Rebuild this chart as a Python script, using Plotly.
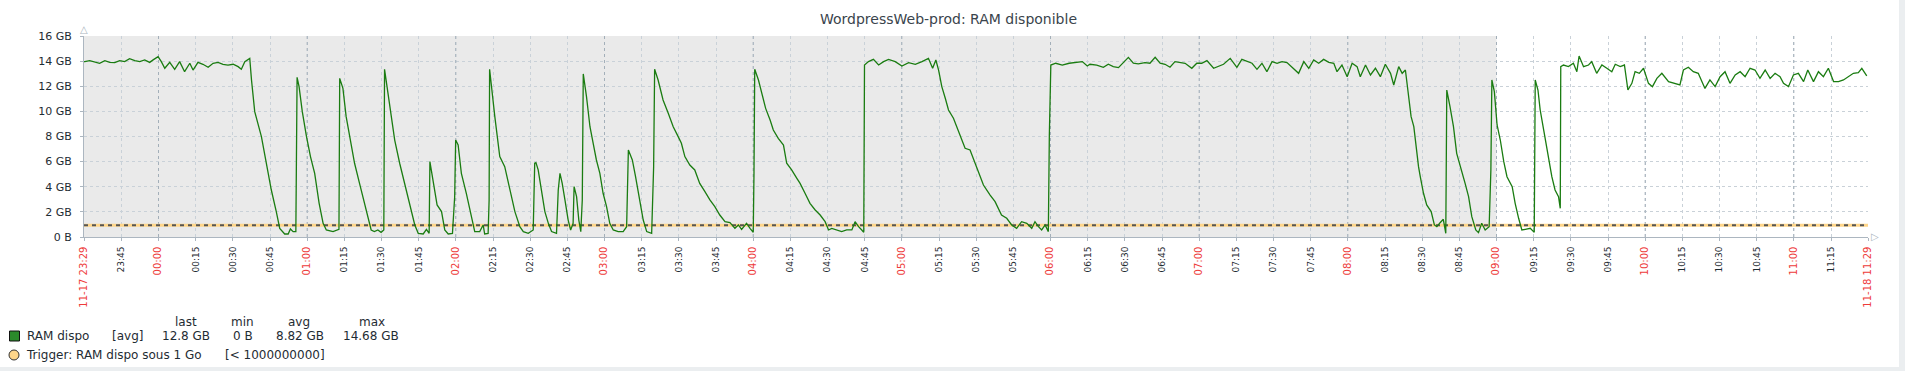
import plotly.graph_objects as go
import pandas as pd

# ---------------- data ----------------
START = "2023-11-17 23:29:56"
END = "2023-11-18 11:29:56"
WORK_START = "2023-11-18 09:00:00"

# minutes since START
T_MIN = [0, 0.3, 2.3, 4.3, 6.3, 8.4, 10.4, 12.4, 14.4, 16.4, 18.4, 20.5, 22.5, 24.5, 26.5, 27.9, 29.9, 31.2,
         32.6, 34.6, 36.6, 38.6, 40.6, 42.7, 44.0, 46.0, 48.0, 50.1, 52.1, 54.1, 56.1, 58.1, 60.2, 62.2, 63.5,
         64.9, 66.2, 66.9,
         67.6, 68.9, 71.6, 73.6, 75.6, 77.6, 79.0, 81.0, 82.4, 83.3, 84.4, 85.5, 85.7, 86.0,
         86.8, 88.1, 89.8, 91.4, 93.1, 94.9, 96.5, 97.8, 100.5, 102.5, 102.9, 103.2,
         104.5, 105.8, 107.4, 109.2, 111.2, 113.2, 115.0, 115.9, 117.2, 118.6, 119.9, 121.0, 121.3,
         123.4, 125.4, 127.4, 129.4, 131.5, 133.5, 134.9, 136.9, 138.2, 139.3, 139.6,
         140.9, 142.5, 144.3, 145.6, 147.0, 148.7, 149.6, 150.0,
         151.0, 152.3, 154.3, 156.4, 157.7, 159.7, 161.1, 161.7, 163.1, 163.5, 163.7,
         165.8, 167.8, 169.8, 171.8, 173.9, 175.9, 177.3, 179.3, 181.3, 181.9, 182.4,
         183.3, 184.7, 186.0, 187.4, 188.7, 190.7, 191.4, 192.1,
         193.0, 194.1, 195.4, 196.4, 197.4, 197.8, 198.8, 199.7, 200.5, 201.1, 201.5,
         202.8, 204.2, 205.5, 206.8, 208.2, 209.5, 210.9, 212.2, 213.6, 215.6, 217.6, 219.0, 219.7,
         221.3, 222.6, 224.4, 225.7, 227.1, 229.1, 229.9, 230.3,
         231.7, 233.7, 235.8, 237.8, 239.8, 241.1, 242.5, 244.5, 246.5, 248.5, 250.6, 252.6, 254.6, 256.6,
         258.7, 260.7, 262.7, 264.1, 265.4, 267.4, 268.8, 270.1, 270.4, 270.7,
         272.2, 273.8, 275.1, 276.9, 278.2, 280.2, 282.3, 283.6, 285.6, 287.7, 289.0, 291.0, 293.0, 295.1,
         297.1, 299.1, 300.5, 301.8, 303.8, 305.8, 307.8, 309.9, 311.2, 312.6, 313.9, 314.7, 315.0,
         316.6, 318.6, 320.7, 322.7, 324.7, 327.4, 330.1, 332.8, 335.5, 338.2, 340.8, 342.5, 343.8, 344.9,
         346.2, 347.6, 348.9, 350.9, 352.3, 353.6, 355.6, 357.6, 359.7,
         360.8, 363.0, 365.7, 367.7, 370.3, 372.4, 374.4, 376.4, 378.4, 380.5, 382.5, 383.8, 385.2, 386.5,
         387.9, 389.2, 389.6, 390.2,
         392.2, 394.8, 397.6, 400.3, 402.9, 404.9, 406.0, 408.7, 411.4, 413.4, 415.4, 417.5, 419.5, 421.5,
         423.5, 425.5, 428.2, 430.2, 432.3, 434.3, 436.3, 438.3, 440.3, 442.4, 444.4, 447.1, 449.1, 451.1,
         453.2, 455.9, 457.9, 459.9, 462.6, 465.3, 467.3, 469.3, 471.4, 473.4, 475.4, 477.4, 479.5, 481.5,
         483.5, 485.5, 488.2, 490.2, 492.3, 494.3, 496.3, 498.3, 500.3, 502.4, 504.4, 505.7, 507.7, 509.8,
         511.8, 513.8, 515.1, 517.2, 519.2, 521.2, 523.2, 525.2, 527.3, 528.6, 530.6, 532.0, 533.3, 534.0,
         534.6, 535.6, 536.7, 537.7, 538.6, 539.3,
         540.6, 541.9, 543.7, 545.0, 546.0, 547.3, 548.6, 549.6, 550.0,
         551.3, 552.7, 554.0, 555.4, 557.4, 558.8, 560.1, 561.7, 562.8, 564.1, 565.5, 567.1, 567.8, 568.2,
         569.2, 570.3, 571.6, 573.0, 574.3, 576.4, 577.6, 579.0, 580.3, 581.7, 583.7, 585.3, 585.7,
         586.8, 587.7, 589.1, 590.4, 591.3, 592.4, 593.7, 595.1, 595.8, 596.0,
         597.1, 599.1, 601.1, 602.5, 603.4, 605.2, 607.2, 608.5, 610.5, 612.6, 614.6, 616.6, 618.0, 620.0,
         621.7, 623.1, 624.7, 626.0, 627.7, 629.4, 631.4, 633.0, 634.8, 636.8, 639.5, 642.1, 644.1, 645.5,
         647.5, 649.5, 651.5, 654.2, 656.2, 658.3, 660.3, 662.3, 664.3, 666.4, 668.4, 670.4, 672.4, 674.4,
         676.4, 678.5, 680.5, 682.5, 684.5, 685.9, 687.9, 689.9, 691.9, 694.0, 695.7, 698.0, 700.0, 702.0,
         704.0, 706.1, 708.1, 710.1, 712.1, 714.1, 716.1, 717.5, 719.5]

RAM_GB = [13.96, 13.96, 14.04, 13.96, 13.83, 14.04, 13.90, 13.88, 14.04, 13.96, 14.20, 14.04, 13.96, 14.09, 13.90, 14.10, 14.35, 13.96,
          13.43, 13.90, 13.35, 13.96, 13.16, 13.83, 13.29, 13.90, 13.75, 13.51, 13.83, 13.90, 13.75, 13.69, 13.75, 13.56, 13.35,
          13.96, 14.14, 14.22,
          12.50, 9.98, 7.99, 5.87, 3.74, 2.02, 0.69, 0.24, 0.24, 0.64, 0.43, 0.43, 8.12, 12.71,
          11.97, 9.98, 7.99, 6.40, 5.07, 2.68, 1.09, 0.56, 0.43, 0.61, 0.61, 12.63,
          11.83, 9.58, 7.72, 5.87, 4.27, 2.68, 1.09, 0.56, 0.43, 0.56, 0.37, 0.56, 13.35,
          10.38, 7.72, 5.87, 4.27, 2.68, 0.96, 0.29, 0.24, 0.61, 0.29, 6.00,
          4.27, 2.55, 2.02, 0.56, 0.24, 0.29, 3.21, 7.72,
          7.32, 5.07, 3.48, 1.62, 0.43, 0.43, 0.96, 0.24, 0.29, 2.95, 13.35,
          9.58, 6.40, 5.60, 3.74, 2.02, 0.82, 0.43, 0.29, 0.56, 5.87, 5.92,
          5.34, 3.74, 2.02, 1.09, 0.43, 0.29, 3.74, 5.07,
          4.27, 2.95, 1.35, 0.56, 1.09, 4.01, 3.21, 1.35, 0.43, 2.95, 12.98,
          11.17, 8.78, 7.46, 6.13, 5.07, 3.48, 2.42, 1.09, 0.56, 0.43, 0.43, 0.82, 6.93,
          6.13, 4.80, 2.95, 1.35, 0.43, 0.29, 5.60, 13.35,
          12.50, 10.91, 9.85, 8.78, 7.99, 7.46, 6.40, 5.73, 5.34, 4.27, 3.61, 2.95, 2.42, 1.75,
          1.22, 1.14, 0.69, 0.96, 0.61, 1.09, 0.69, 0.37, 5.07, 13.35,
          12.50, 11.17, 10.24, 9.31, 8.52, 7.85, 7.32, 5.87, 5.34, 4.67, 4.27, 3.48, 2.68, 2.15,
          1.75, 1.22, 0.56, 0.69, 0.56, 0.43, 0.56, 0.56, 1.22, 0.82, 0.56, 0.37, 13.69,
          13.96, 14.14, 13.69, 13.96, 14.14, 13.96, 13.61, 13.88, 13.75, 13.96, 14.22, 13.43, 14.09, 13.29,
          11.97, 11.04, 10.11, 9.45, 8.78, 8.12, 7.06, 6.93, 5.90,
          5.34, 4.14, 3.34, 2.81, 1.75, 1.49, 0.96, 0.69, 1.22, 1.09, 0.69, 1.22, 0.82, 0.56,
          0.96, 0.43, 8.12, 13.69,
          13.83, 13.69, 13.83, 13.88, 13.96, 13.61, 13.75, 13.69, 13.51, 13.75, 13.56, 13.48, 13.88, 14.30,
          13.83, 13.78, 13.88, 13.83, 14.30, 13.83, 13.75, 13.51, 13.96, 13.88, 13.83, 13.43, 13.83, 13.83,
          14.04, 13.43, 13.56, 13.75, 14.22, 13.51, 14.14, 13.96, 13.83, 13.35, 13.83, 13.16, 13.96, 13.83,
          13.96, 13.88, 13.43, 13.03, 13.96, 13.43, 14.09, 13.83, 14.14, 13.90, 13.83, 13.16, 13.69, 12.76,
          13.83, 13.56, 12.76, 13.69, 12.90, 13.43, 12.76, 13.75, 13.03, 12.10, 13.56, 13.03, 13.29, 12.10,
          10.91, 9.58, 8.78, 6.93, 5.60, 4.80,
          3.48, 2.55, 2.02, 0.96, 0.82, 1.14, 1.41, 0.29, 11.70,
          10.38, 8.78, 6.66, 5.73, 4.27, 3.21, 1.62, 0.56, 0.35, 1.09, 0.56, 0.82, 5.34, 12.50,
          11.57, 8.92, 7.72, 6.00, 4.80, 4.01, 2.68, 1.49, 0.56, 0.61, 0.69, 0.37, 12.50,
          11.70, 10.11, 8.52, 6.93, 5.87, 4.80, 3.74, 3.21, 2.28, 13.56,
          13.69, 13.56, 13.83, 13.16, 14.41, 13.56, 13.69, 13.96, 13.03, 13.69, 13.43, 13.16, 13.75, 13.56,
          13.69, 11.70, 12.23, 13.16, 13.03, 13.43, 12.23, 11.97, 12.63, 13.03, 12.37, 12.23, 12.10, 13.29,
          13.51, 13.16, 13.03, 11.83, 12.50, 11.97, 12.76, 13.16, 12.23, 12.90, 13.16, 12.76, 13.43, 13.29,
          12.63, 13.29, 12.63, 13.03, 12.76, 12.23, 11.97, 12.90, 13.03, 12.37, 13.29, 12.37, 13.16, 12.76,
          13.43, 12.37, 12.37, 12.50, 12.76, 13.03, 13.08, 13.43, 12.82]

TICK_LABELS = ["23:45", "00:00", "00:15", "00:30", "00:45", "01:00", "01:15", "01:30", "01:45",
               "02:00", "02:15", "02:30", "02:45", "03:00", "03:15", "03:30", "03:45",
               "04:00", "04:15", "04:30", "04:45", "05:00", "05:15", "05:30", "05:45",
               "06:00", "06:15", "06:30", "06:45", "07:00", "07:15", "07:30", "07:45",
               "08:00", "08:15", "08:30", "08:45", "09:00", "09:15", "09:30", "09:45",
               "10:00", "10:15", "10:30", "10:45", "11:00", "11:15"]
FIRST_LABEL = "11-17 23:29"
LAST_LABEL = "11-18 11:29"

Y_TICKS = [0, 2, 4, 6, 8, 10, 12, 14, 16]
Y_TICK_TEXT = ["0 B", "2 GB", "4 GB", "6 GB", "8 GB", "10 GB", "12 GB", "14 GB", "16 GB"]

TRIGGER_GB = 1000000000 / 1024 ** 3

TITLE = "WordpressWeb-prod: RAM disponible"
LEGEND_HEAD = ["last", "min", "avg", "max"]
LEGEND_VALS = ["12.8 GB", "0 B", "8.82 GB", "14.68 GB"]
SERIES_NAME = "RAM dispo"
SERIES_FUNC = "[avg]"
TRIGGER_NAME = "Trigger: RAM dispo sous 1 Go"
TRIGGER_COND = "[< 1000000000]"

# ---------------- styles ----------------
FONT = "DejaVu Sans"
TXT = "#1F2C33"
RED = "#EE3B3B"
LINE_GREEN = "#1A7C11"
GRID_LIGHT = "#C9D1D8"
GRID_DARK = "#A3AFB9"
AXIS_COL = "#ACB6C0"
SHADE = "#EAEAEA"
TRIG_FILL = "#FFD68A"
PAGE_BG = "#EBEEF0"

W, H = 1905, 371
L, R, T, B = 84, 1868, 36, 237


def px(X):
    return (X - L) / (R - L)


def py(Y):
    return (B - Y) / (B - T)


t0 = pd.Timestamp(START)
x_vals = t0 + pd.to_timedelta(T_MIN, unit="min")


def label_time(lbl):
    day = "2023-11-17" if lbl.startswith("23") else "2023-11-18"
    return pd.Timestamp(f"{day} {lbl}:00")


tick_vals = [pd.Timestamp(START)] + [label_time(s) for s in TICK_LABELS] + [pd.Timestamp(END)]


def red(s):
    return f'<span style="color:{RED};font-size:10px">{s}</span>'


tick_text = [red(FIRST_LABEL)] + [red(s) if s.endswith(":00") else s for s in TICK_LABELS] + [red(LAST_LABEL)]

fig = go.Figure()
fig.add_trace(go.Scatter(x=x_vals, y=RAM_GB, mode="lines",
                         line=dict(color=LINE_GREEN, width=1.3), hoverinfo="skip", showlegend=False))

shapes = []
# non-working-time shading
shapes.append(dict(type="rect", xref="x", yref="y", x0=START, x1=WORK_START, y0=0, y1=16,
                   fillcolor=SHADE, line=dict(width=0), layer="below"))
# hour grid lines (darker)
for s in TICK_LABELS:
    if s.endswith(":00"):
        tv = label_time(s)
        shapes.append(dict(type="line", xref="x", yref="y", x0=tv, x1=tv, y0=0, y1=16,
                           line=dict(color=GRID_DARK, width=1, dash="3px,3px"), layer="between"))
# trigger line
shapes.append(dict(type="line", xref="x", yref="y", x0=START, x1=END, y0=TRIGGER_GB, y1=TRIGGER_GB,
                   line=dict(color=TRIG_FILL, width=3), layer="between"))
shapes.append(dict(type="line", xref="x", yref="y", x0=START, x1=END, y0=TRIGGER_GB, y1=TRIGGER_GB,
                   line=dict(color="#555555", width=2, dash="4px,4px"), layer="between"))
# legend markers
shapes.append(dict(type="rect", xref="paper", yref="paper", x0=px(9.5), x1=px(19.5), y0=py(341), y1=py(331),
                   fillcolor="#2B8A2B", line=dict(color="#111111", width=1)))
shapes.append(dict(type="circle", xref="paper", yref="paper", x0=px(9), x1=px(19), y0=py(360), y1=py(350),
                   fillcolor=TRIG_FILL, line=dict(color="#333333", width=1)))
# page background strips (outside the graph image)
shapes.append(dict(type="rect", xref="paper", yref="paper", x0=px(1899), x1=px(1915), y0=py(380), y1=py(-10),
                   fillcolor=PAGE_BG, line=dict(width=0), layer="above"))
shapes.append(dict(type="rect", xref="paper", yref="paper", x0=px(-10), x1=px(1915), y0=py(380), y1=py(367),
                   fillcolor=PAGE_BG, line=dict(width=0), layer="above"))

ann = []


def text(X, Y, s, size=12, xanchor="left", color=TXT, **kw):
    ann.append(dict(x=px(X), y=py(Y), xref="paper", yref="paper", text=s, showarrow=False,
                    xanchor=xanchor, yanchor="middle", font=dict(family=FONT, size=size, color=color), **kw))


text(948.5, 18.5, TITLE, size=14, xanchor="center", color="#3A444C")
# axis arrows
text(84, 29, "△", size=10, xanchor="center", color=AXIS_COL)
text(1875, 236.5, "▷", size=10, xanchor="center", color=AXIS_COL)
# legend
for h, xc in zip(LEGEND_HEAD, [186, 242.5, 299, 372]):
    text(xc, 321.5, h, xanchor="center")
text(25, 336, SERIES_NAME)
text(110, 336, SERIES_FUNC)
for v, xc in zip(LEGEND_VALS, [185.5, 243, 299.5, 370.5]):
    text(xc, 336, v, xanchor="center")
text(24, 355, TRIGGER_NAME)
text(223, 355, TRIGGER_COND)

fig.update_layout(
    width=W, height=H, autosize=False,
    margin=dict(l=L, r=W - R, t=T, b=H - B, pad=0),
    paper_bgcolor="white", plot_bgcolor="white",
    font=dict(family=FONT, color=TXT),
    shapes=shapes, annotations=ann,
    xaxis=dict(type="date", range=[START, END], tickmode="array", tickvals=tick_vals, ticktext=tick_text,
               tickangle=-90, tickfont=dict(family=FONT, size=9, color=TXT),
               showgrid=True, gridcolor=GRID_LIGHT, griddash="3px,3px", gridwidth=1,
               showline=True, linecolor=AXIS_COL, linewidth=1,
               ticks="outside", ticklen=3, tickcolor=AXIS_COL, ticklabelstandoff=2,
               zeroline=False, fixedrange=True),
    yaxis=dict(range=[0, 16], tickmode="array", tickvals=Y_TICKS, ticktext=Y_TICK_TEXT,
               tickfont=dict(family=FONT, size=11, color=TXT),
               showgrid=True, gridcolor=GRID_LIGHT, griddash="3px,3px", gridwidth=1,
               showline=True, linecolor=AXIS_COL, linewidth=1,
               ticks="outside", ticklen=3, tickcolor=AXIS_COL, ticklabelstandoff=6,
               zeroline=False, fixedrange=True),
)

fig.write_html("out.html")
